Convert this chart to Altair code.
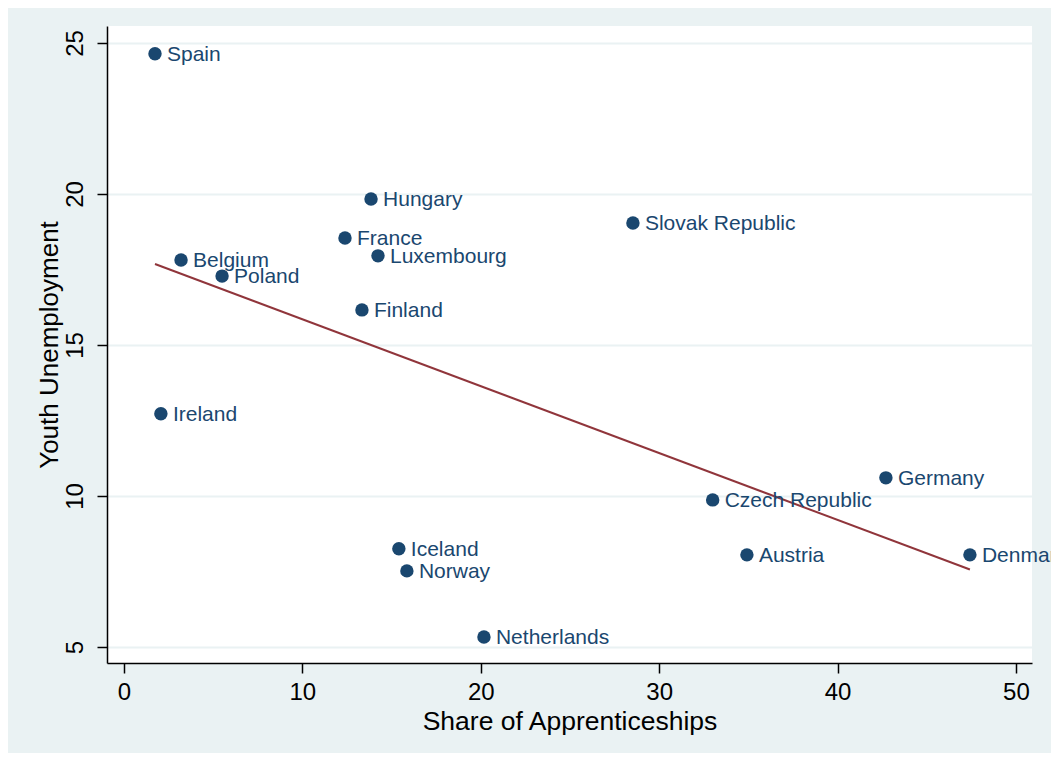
import altair as alt
import pandas as pd

countries = ["Spain", "Belgium", "Poland", "Ireland", "Hungary", "France",
             "Luxembourg", "Finland", "Slovak Republic", "Iceland", "Norway",
             "Netherlands", "Czech Republic", "Austria", "Germany", "Denmark"]
apprenticeships = [1.74, 3.2, 5.5, 2.07, 13.85, 12.39, 14.24, 13.34, 28.53,
                   15.41, 15.86, 20.18, 33.0, 34.92, 42.71, 47.42]
youth_unemp = [24.64, 17.81, 17.28, 12.72, 19.83, 18.54, 17.95, 16.16, 19.04,
               8.25, 7.52, 5.33, 9.87, 8.05, 10.60, 8.05]

df = pd.DataFrame({"country": countries, "x": apprenticeships, "y": youth_unemp})

NAVY = "#1a476f"
MAROON = "#90353b"
BG = "#eaf2f3"
FONT = "Liberation Sans"

W, H = 925, 637

xscale = alt.Scale(domain=[-0.95, 50.9], nice=False, zero=False)
yscale = alt.Scale(domain=[4.47, 25.56], nice=False, zero=False)

xaxis = alt.Axis(values=[0, 10, 20, 30, 40, 50], grid=False, title="Share of Apprenticeships",
                 tickSize=10, tickWidth=1.5, tickColor="black", domainColor="black",
                 domainWidth=1.5, labelFontSize=24, labelColor="black", labelPadding=7,
                 labelFont=FONT, titleFont=FONT, titleFontSize=26.5, titleFontWeight="normal",
                 titleColor="black", titleX=W / 2, titleY=66, titleBaseline="alphabetic",
                 titleAlign="center")
yaxis = alt.Axis(values=[5, 10, 15, 20, 25], grid=True, gridColor=BG, gridWidth=2,
                 title="Youth Unemployment", tickSize=10, tickWidth=1.5, tickColor="black",
                 domainColor="black", domainWidth=1.5, labelFontSize=24, labelColor="black",
                 labelAngle=270, labelAlign="center", labelBaseline="bottom", labelPadding=10,
                 labelFont=FONT, titleFont=FONT, titleFontSize=26, titleFontWeight="normal",
                 titleColor="black", titleAngle=270, titleX=-50, titleY=H / 2,
                 titleBaseline="alphabetic", titleAlign="center")

base = alt.Chart(df)

points = base.mark_circle(size=180, color=NAVY, opacity=1).encode(
    x=alt.X("x:Q", scale=xscale, axis=xaxis),
    y=alt.Y("y:Q", scale=yscale, axis=yaxis),
)

labels = base.mark_text(align="left", baseline="middle", dx=12, dy=1, fontSize=21,
                        font=FONT, color=NAVY).encode(
    x=alt.X("x:Q", scale=xscale),
    y=alt.Y("y:Q", scale=yscale),
    text="country:N",
)

fit = base.transform_regression("x", "y").mark_line(color=MAROON, strokeWidth=2).encode(
    x=alt.X("x:Q", scale=xscale),
    y=alt.Y("y:Q", scale=yscale),
)

chart = alt.layer(points, fit, labels).properties(
    width=W, height=H,
    background=BG,
    padding={"left": 99, "top": 18, "right": 19, "bottom": 90},
    autosize=alt.AutoSizeParams(type="none"),
).configure_view(fill="white", stroke=None)

chart.save("out.html", embed_options={"renderer": "svg", "actions": False})
